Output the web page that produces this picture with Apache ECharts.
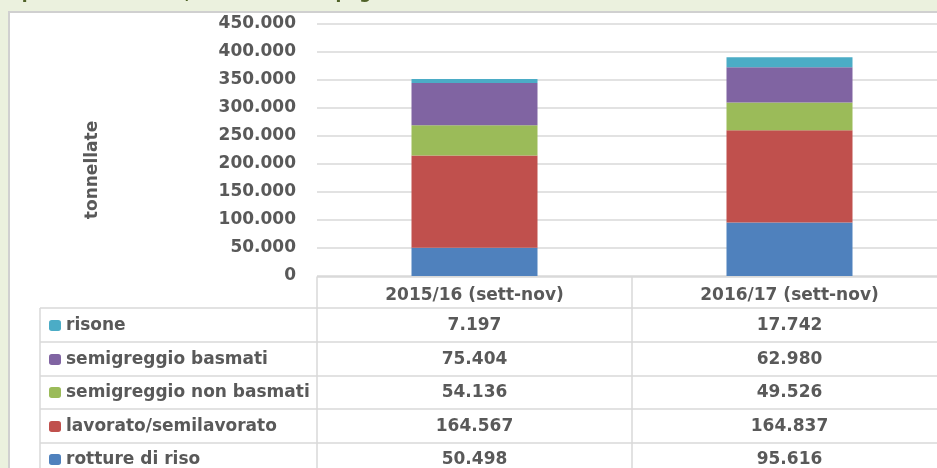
<!DOCTYPE html>
<html><head><meta charset="utf-8">
<script src="https://cdn.jsdelivr.net/npm/echarts@6/dist/echarts.min.js"></script>
<style>html,body{margin:0;padding:0;background:#ebf1de;overflow:hidden}#c{width:937px;height:468px}</style>
</head><body><div id="c"></div>
<script>
const categories = ['2015/16 (sett-nov)', '2016/17 (sett-nov)'];
const rotture = [50498, 95616];
const lavorato = [164567, 164837];
const nonBasmati = [54136, 49526];
const basmati = [75404, 62980];
const risone = [7197, 17742];
const seriesNames = ['rotture di riso', 'lavorato/semilavorato', 'semigreggio non basmati', 'semigreggio basmati', 'risone'];
const seriesValues = [rotture, lavorato, nonBasmati, basmati, risone];
const seriesColors = ['#4f81bd', '#c0504d', '#9bbb59', '#8064a2', '#4bacc6'];
const yMin = 0, yMax = 450000, yStep = 50000;
const yName = 'tonnellate';
const titleText = "Esportazioni di riso, confronto campagne (sett-nov)";

function fmt(v){ return String(Math.round(v)).replace(/\B(?=(\d{3})+(?!\d))/g, '.'); }

const FONT = 'DejaVu Sans';
const GRAY = '#595959';
const LINE = '#d9d9d9';
const FS = 17;

// table rows top->bottom (reverse of stacking order)
const rowOrder = [4, 3, 2, 1, 0];
const rowCenters = [325, 359, 392, 426, 459];
const axisY = 276;

const xAxes = [{
  type: 'category', data: categories, gridIndex: 0,
  axisLine: {lineStyle: {color: LINE}}, axisTick: {show: false},
  axisLabel: {color: GRAY, fontFamily: FONT, fontWeight: 'bold', fontSize: FS, margin: 11, interval: 0}
}];
rowOrder.forEach((si, r) => {
  xAxes.push({
    type: 'category', data: seriesValues[si].map(fmt), gridIndex: 0, position: 'bottom',
    offset: rowCenters[r] - axisY - 8,
    axisLine: {show: false}, axisTick: {show: false}, splitLine: {show: false},
    axisLabel: {color: GRAY, fontFamily: FONT, fontWeight: 'bold', fontSize: FS, margin: 0, interval: 0}
  });
});

const legends = rowOrder.map((si, r) => ({
  data: [seriesNames[si]], orient: 'vertical', left: 49, top: rowCenters[r] - 8,
  itemWidth: 12, itemHeight: 11, itemGap: 0, padding: 0, selectedMode: false,
  textStyle: {color: GRAY, fontFamily: FONT, fontWeight: 'bold', fontSize: FS}
}));

const lines = [];
function hl(y, x1, x2){ lines.push({type:'line', z: 0, shape:{x1:x1, y1:y, x2:x2, y2:y}, style:{stroke: LINE, lineWidth: 1.5}}); }
function vl(x, y1, y2){ lines.push({type:'line', z: 0, shape:{x1:x, y1:y1, x2:x, y2:y2}, style:{stroke: LINE, lineWidth: 1.5}}); }
[308, 342, 376, 409, 443].forEach(y => hl(y, 40, 937));
hl(277, 317, 937);
vl(40, 308, 468); vl(317, 277, 468); vl(632, 277, 468);

const chart = echarts.init(document.getElementById('c'));
chart.setOption({
  animation: false,
  backgroundColor: '#ebf1de',
  textStyle: {fontFamily: FONT},
  graphic: [
    {type: 'rect', z: -10, shape: {x: 9, y: 12, width: 1000, height: 500}, style: {fill: '#ffffff', stroke: '#d0d0d0', lineWidth: 2}},
    {type: 'text', z: -5, left: 0, top: -15, style: {text: titleText, fill: '#4f6228', font: 'bold 17px "DejaVu Sans"'}}
  ].concat(lines),
  legend: legends,
  grid: {left: 317, top: 24, width: 630, height: axisY - 24, containLabel: false, outerBoundsMode: 'none'},
  xAxis: xAxes,
  yAxis: {
    type: 'value', min: yMin, max: yMax, interval: yStep,
    name: yName, nameLocation: 'middle', nameRotate: 90, nameGap: 216,
    nameTextStyle: {color: GRAY, fontFamily: FONT, fontWeight: 'bold', fontSize: FS, padding: [0, 40, 0, 0]},
    axisLine: {show: false}, axisTick: {show: false},
    splitLine: {lineStyle: {color: LINE, width: 1.5}},
    axisLabel: {color: GRAY, fontFamily: FONT, fontWeight: 'bold', fontSize: FS, margin: 21, padding: [4, 0, 0, 0], formatter: fmt}
  },
  series: seriesNames.map((n, i) => ({
    name: n, type: 'bar', stack: 'tot', data: seriesValues[i], barWidth: 126,
    itemStyle: {color: seriesColors[i]}, emphasis: {disabled: true}
  }))
});
</script></body></html>
